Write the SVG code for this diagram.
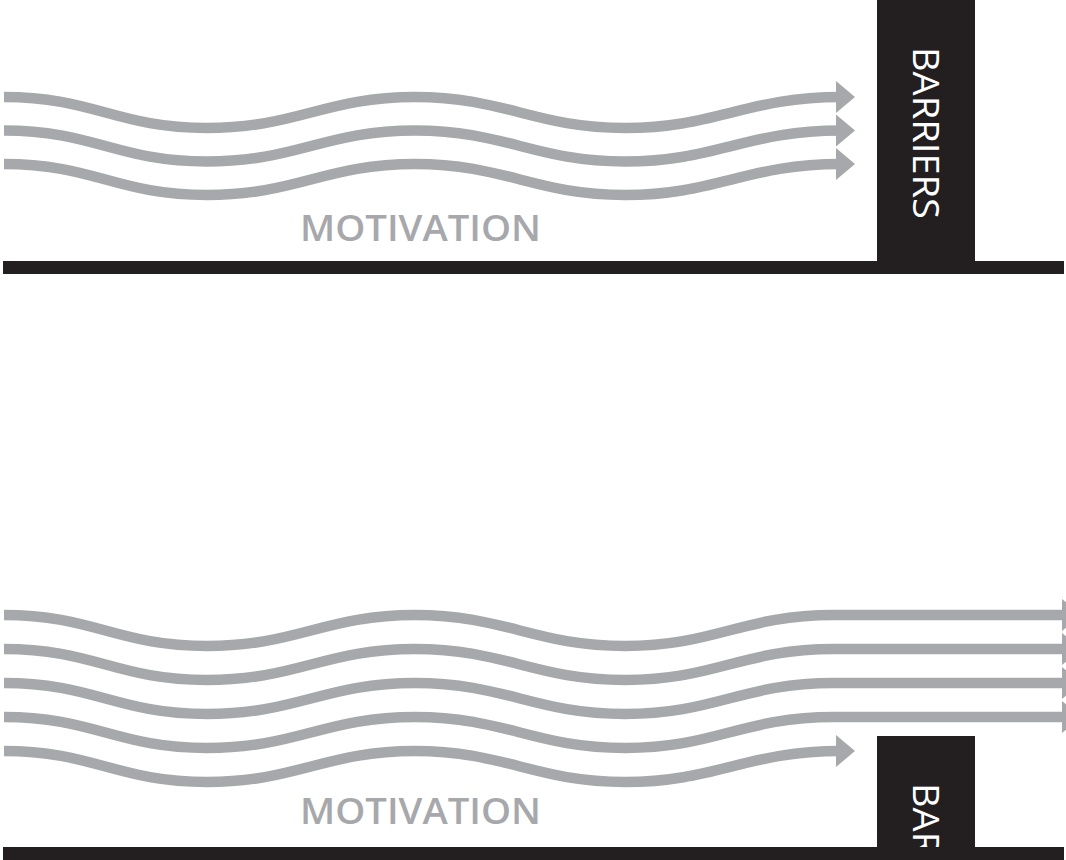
<svg xmlns="http://www.w3.org/2000/svg" width="1066" height="860" viewBox="0 0 1066 860">
<style>
.wave{fill:none;stroke:#a7a8ab;stroke-width:10.5}
.head{fill:#a7a8ab}
.ground{fill:#231f20}
.bar{fill:#231f20}
.mot{font-family:"Open Sans","Liberation Sans",sans-serif;font-weight:600;font-size:36px;fill:#a7a8ab}
.bar-label{font-family:"Open Sans","Liberation Sans",sans-serif;font-weight:500;font-size:37px;fill:#ffffff}
</style>
<defs>
<path id="w" d="M4,0 C94,0 117,31 207,31 S325,0 415,0 S535,31 625,31 S748,0 840,0"/>
<path id="ws" d="M4,0 C94,0 117,31 207,31 S325,0 415,0 S535,31 625,31 S743,0 833,0 L1066,0"/>
<polygon id="ah" points="836,-16 855,0 836,16"/>
<clipPath id="clipBottom"><rect x="877" y="736" width="98" height="111"/></clipPath>
</defs>
<rect width="1066" height="860" fill="#ffffff"/>

<g id="connectors">
<g id="top-flows">
<use href="#w" class="wave" y="97"/>
<use href="#ah" class="head" y="97"/>
<use href="#w" class="wave" y="130.5"/>
<use href="#ah" class="head" y="130.5"/>
<use href="#w" class="wave" y="164"/>
<use href="#ah" class="head" y="164"/>
</g>
<g id="bottom-flows">
<use href="#ws" class="wave" y="615"/>
<polygon class="head" points="1062,599 1081,615 1062,631"/>
<use href="#ws" class="wave" y="649"/>
<polygon class="head" points="1062,633 1081,649 1062,665"/>
<use href="#ws" class="wave" y="683"/>
<polygon class="head" points="1062,667 1081,683 1062,699"/>
<use href="#ws" class="wave" y="717"/>
<polygon class="head" points="1062,701 1081,717 1062,733"/>
<use href="#w" class="wave" y="751"/>
<use href="#ah" class="head" y="751"/>
</g>
</g>

<g id="top-panel">
<text class="mot" x="300" y="241" textLength="241" lengthAdjust="spacingAndGlyphs">MOTIVATION</text>
</g>
<g id="top-barrier">
<rect class="bar" x="877" y="0" width="98" height="262"/>
<text class="bar-label" transform="translate(913,47) rotate(90)" textLength="172" lengthAdjust="spacingAndGlyphs">BARRIERS</text>
</g>
<g id="top-ground">
<rect class="ground" x="3" y="261" width="1061" height="13"/>
</g>

<g id="bottom-panel">
<text class="mot" x="300" y="824" textLength="241" lengthAdjust="spacingAndGlyphs">MOTIVATION</text>
</g>
<g id="bottom-barrier">
<rect class="bar" x="877" y="736" width="98" height="112"/>
<g clip-path="url(#clipBottom)">
<text class="bar-label" transform="translate(913,783) rotate(90)" textLength="172" lengthAdjust="spacingAndGlyphs">BARRIERS</text>
</g>
</g>
<g id="bottom-ground">
<rect class="ground" x="3" y="847" width="1061" height="13"/>
</g>
</svg>
